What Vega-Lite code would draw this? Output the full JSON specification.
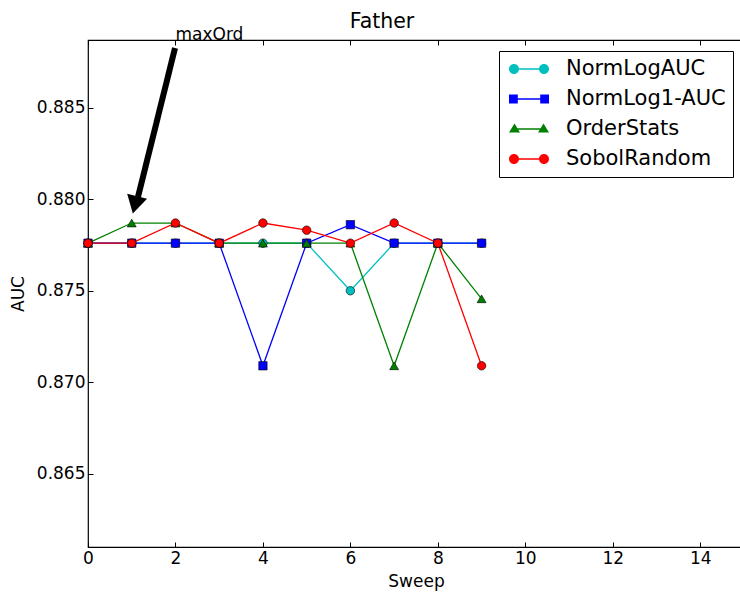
{
  "$schema": "https://vega.github.io/schema/vega-lite/v6.json",
  "autosize": {"type": "none"},
  "width": 656,
  "height": 507,
  "padding": {"left": 88, "top": 40, "right": 0, "bottom": 46},
  "background": "white",
  "config": {
    "font": "DejaVu Sans",
    "view": {"stroke": "#000", "strokeWidth": 1.2},
    "axis": {
      "grid": false, "domain": false, "tickColor": "#000", "tickSize": -5, "tickWidth": 1, "labelFlush": false,
      "labelFont": "DejaVu Sans", "labelFontSize": 17, "labelColor": "#000",
      "titleFont": "DejaVu Sans", "titleFontSize": 17, "titleFontWeight": "normal", "titleColor": "#000"
    },
    "legend": {
      "orient": "top-right", "offset": 11,
      "strokeColor": "#000", "fillColor": "#fff", "padding": 7,
      "labelFontSize": 21, "labelFont": "DejaVu Sans", "labelColor": "#000", "labelLimit": 300,
      "symbolSize": 1600, "clipHeight": 22, "rowPadding": 8, "labelOffset": 17, "symbolOffset": 3,
      "symbolOpacity": 1, "symbolStrokeWidth": 0
    }
  },
  "title": {"text": "Father", "fontSize": 20.5, "fontWeight": "normal", "font": "DejaVu Sans", "color": "#000", "anchor": "middle", "dx": -34, "dy": 20, "offset": 14},
  "datasets": {
    "series": [
      {"sweep": 0, "auc": 0.8776, "series": "NormLogAUC"},
      {"sweep": 1, "auc": 0.8776, "series": "NormLogAUC"},
      {"sweep": 2, "auc": 0.8776, "series": "NormLogAUC"},
      {"sweep": 3, "auc": 0.8776, "series": "NormLogAUC"},
      {"sweep": 4, "auc": 0.8776, "series": "NormLogAUC"},
      {"sweep": 5, "auc": 0.8776, "series": "NormLogAUC"},
      {"sweep": 6, "auc": 0.875, "series": "NormLogAUC"},
      {"sweep": 7, "auc": 0.8776, "series": "NormLogAUC"},
      {"sweep": 8, "auc": 0.8776, "series": "NormLogAUC"},
      {"sweep": 9, "auc": 0.8776, "series": "NormLogAUC"},
      {"sweep": 0, "auc": 0.8776, "series": "NormLog1-AUC"},
      {"sweep": 1, "auc": 0.8776, "series": "NormLog1-AUC"},
      {"sweep": 2, "auc": 0.8776, "series": "NormLog1-AUC"},
      {"sweep": 3, "auc": 0.8776, "series": "NormLog1-AUC"},
      {"sweep": 4, "auc": 0.8709, "series": "NormLog1-AUC"},
      {"sweep": 5, "auc": 0.8776, "series": "NormLog1-AUC"},
      {"sweep": 6, "auc": 0.87861, "series": "NormLog1-AUC"},
      {"sweep": 7, "auc": 0.8776, "series": "NormLog1-AUC"},
      {"sweep": 8, "auc": 0.8776, "series": "NormLog1-AUC"},
      {"sweep": 9, "auc": 0.8776, "series": "NormLog1-AUC"},
      {"sweep": 0, "auc": 0.8776, "series": "OrderStats"},
      {"sweep": 1, "auc": 0.8787, "series": "OrderStats"},
      {"sweep": 2, "auc": 0.8787, "series": "OrderStats"},
      {"sweep": 3, "auc": 0.8776, "series": "OrderStats"},
      {"sweep": 4, "auc": 0.8776, "series": "OrderStats"},
      {"sweep": 5, "auc": 0.8776, "series": "OrderStats"},
      {"sweep": 6, "auc": 0.8776, "series": "OrderStats"},
      {"sweep": 7, "auc": 0.8709, "series": "OrderStats"},
      {"sweep": 8, "auc": 0.8776, "series": "OrderStats"},
      {"sweep": 9, "auc": 0.87456, "series": "OrderStats"},
      {"sweep": 0, "auc": 0.8776, "series": "SobolRandom"},
      {"sweep": 1, "auc": 0.8776, "series": "SobolRandom"},
      {"sweep": 2, "auc": 0.8787, "series": "SobolRandom"},
      {"sweep": 3, "auc": 0.8776, "series": "SobolRandom"},
      {"sweep": 4, "auc": 0.8787, "series": "SobolRandom"},
      {"sweep": 5, "auc": 0.87831, "series": "SobolRandom"},
      {"sweep": 6, "auc": 0.8776, "series": "SobolRandom"},
      {"sweep": 7, "auc": 0.8787, "series": "SobolRandom"},
      {"sweep": 8, "auc": 0.8776, "series": "SobolRandom"},
      {"sweep": 9, "auc": 0.8709, "series": "SobolRandom"}
    ],
    "shaft": [{"x": 1.99, "y": 0.88826, "x2": 1.143, "y2": 0.88012}],
    "head": [{"x": 1.074, "y": 0.87969}],
    "label": [{"x": 2.0, "y": 0.8887, "text": "maxOrd"}]
  },
  "resolve": {"axis": {"x": "independent"}},
  "layer": [
    {
      "data": {"name": "series"},
      "mark": {"type": "line", "strokeWidth": 1.3},
      "encoding": {
        "x": {"field": "sweep", "type": "quantitative", "scale": {"domain": [0, 15], "nice": false, "zero": false},
              "axis": {"orient": "bottom", "values": [0, 2, 4, 6, 8, 10, 12, 14], "title": "Sweep", "labelPadding": 8, "titlePadding": 7}},
        "y": {"field": "auc", "type": "quantitative", "scale": {"domain": [0.861, 0.8887], "nice": false, "zero": false},
              "axis": {"values": [0.865, 0.87, 0.875, 0.88, 0.885], "format": ".3f", "title": "AUC", "labelPadding": 8, "titlePadding": 9}},
        "color": {
          "field": "series", "type": "nominal", "title": null,
          "scale": {"domain": ["NormLogAUC", "NormLog1-AUC", "OrderStats", "SobolRandom"], "range": ["#00BFBF", "#0000FF", "#008000", "#FF0000"]}
        }
      }
    },
    {
      "data": {"name": "series"},
      "transform": [{"filter": "datum.series === 'NormLogAUC'"}],
      "mark": {"type": "point", "shape": "circle", "filled": true, "stroke": "#000", "strokeWidth": 0.6, "opacity": 1, "size": 72},
      "encoding": {
        "x": {"field": "sweep", "type": "quantitative", "axis": null},
        "y": {"field": "auc", "type": "quantitative"},
        "color": {"field": "series", "type": "nominal", "title": null}
      }
    },
    {
      "data": {"name": "series"},
      "transform": [{"filter": "datum.series === 'NormLog1-AUC'"}],
      "mark": {"type": "point", "shape": "square", "filled": true, "stroke": "#000", "strokeWidth": 0.6, "opacity": 1, "size": 70},
      "encoding": {
        "x": {"field": "sweep", "type": "quantitative", "axis": null},
        "y": {"field": "auc", "type": "quantitative"},
        "color": {"field": "series", "type": "nominal", "title": null}
      }
    },
    {
      "data": {"name": "series"},
      "transform": [{"filter": "datum.series === 'OrderStats'"}],
      "mark": {"type": "point", "shape": "triangle-up", "filled": true, "stroke": "#000", "strokeWidth": 0.6, "opacity": 1, "size": 80},
      "encoding": {
        "x": {"field": "sweep", "type": "quantitative", "axis": null},
        "y": {"field": "auc", "type": "quantitative"},
        "color": {"field": "series", "type": "nominal", "title": null}
      }
    },
    {
      "data": {"name": "series"},
      "transform": [{"filter": "datum.series === 'SobolRandom'"}],
      "mark": {"type": "point", "shape": "circle", "filled": true, "stroke": "#000", "strokeWidth": 0.6, "opacity": 1, "size": 72},
      "encoding": {
        "x": {"field": "sweep", "type": "quantitative", "axis": null},
        "y": {"field": "auc", "type": "quantitative"},
        "color": {"field": "series", "type": "nominal", "title": null}
      }
    },
    {
      "data": {"name": "series"},
      "mark": {"type": "point", "filled": true, "opacity": 0},
      "encoding": {
        "x": {"field": "sweep", "type": "quantitative", "axis": null},
        "y": {"field": "auc", "type": "quantitative"},
        "color": {"field": "series", "type": "nominal", "title": null},
        "shape": {"field": "series", "type": "nominal", "title": null,
                  "scale": {"domain": ["NormLogAUC", "NormLog1-AUC", "OrderStats", "SobolRandom"],
                            "range": [
                              "M-1,0A0.25,0.25,0,1,0,-0.5,0A0.25,0.25,0,1,0,-1,0ZM0.5,0A0.25,0.25,0,1,0,1,0A0.25,0.25,0,1,0,0.5,0ZM-0.5,-0.04L0.5,-0.04L0.5,0.04L-0.5,0.04Z",
                              "M-1,-0.22L-0.56,-0.22L-0.56,0.22L-1,0.22ZM0.56,-0.22L1,-0.22L1,0.22L0.56,0.22ZM-0.56,-0.04L0.56,-0.04L0.56,0.04L-0.56,0.04Z",
                              "M-1,0.18L-0.45,0.18L-0.725,-0.27ZM0.45,0.18L1,0.18L0.725,-0.27ZM-0.6,-0.04L-0.6,0.04L0.6,0.04L0.6,-0.04Z",
                              "M-1,0A0.25,0.25,0,1,0,-0.5,0A0.25,0.25,0,1,0,-1,0ZM0.5,0A0.25,0.25,0,1,0,1,0A0.25,0.25,0,1,0,0.5,0ZM-0.5,-0.04L0.5,-0.04L0.5,0.04L-0.5,0.04Z"
                            ]}}
      }
    },
    {
      "data": {"name": "shaft"},
      "mark": {"type": "rule", "color": "#000", "strokeWidth": 6, "strokeCap": "butt"},
      "encoding": {
        "x": {"field": "x", "type": "quantitative", "axis": null},
        "y": {"field": "y", "type": "quantitative"},
        "x2": {"field": "x2"},
        "y2": {"field": "y2"}
      }
    },
    {
      "data": {"name": "head"},
      "mark": {"type": "point", "shape": "triangle-down", "filled": true, "color": "#000", "opacity": 1, "size": 420, "angle": 14},
      "encoding": {
        "x": {"field": "x", "type": "quantitative", "axis": null},
        "y": {"field": "y", "type": "quantitative"}
      }
    },
    {
      "data": {"name": "label"},
      "mark": {"type": "text", "align": "left", "baseline": "alphabetic", "fontSize": 17, "font": "DejaVu Sans", "color": "#000"},
      "encoding": {
        "x": {"field": "x", "type": "quantitative",
              "axis": {"orient": "top", "values": [0, 2, 4, 6, 8, 10, 12, 14], "labels": false, "title": null}},
        "y": {"field": "y", "type": "quantitative"},
        "text": {"field": "text"}
      }
    }
  ]
}
